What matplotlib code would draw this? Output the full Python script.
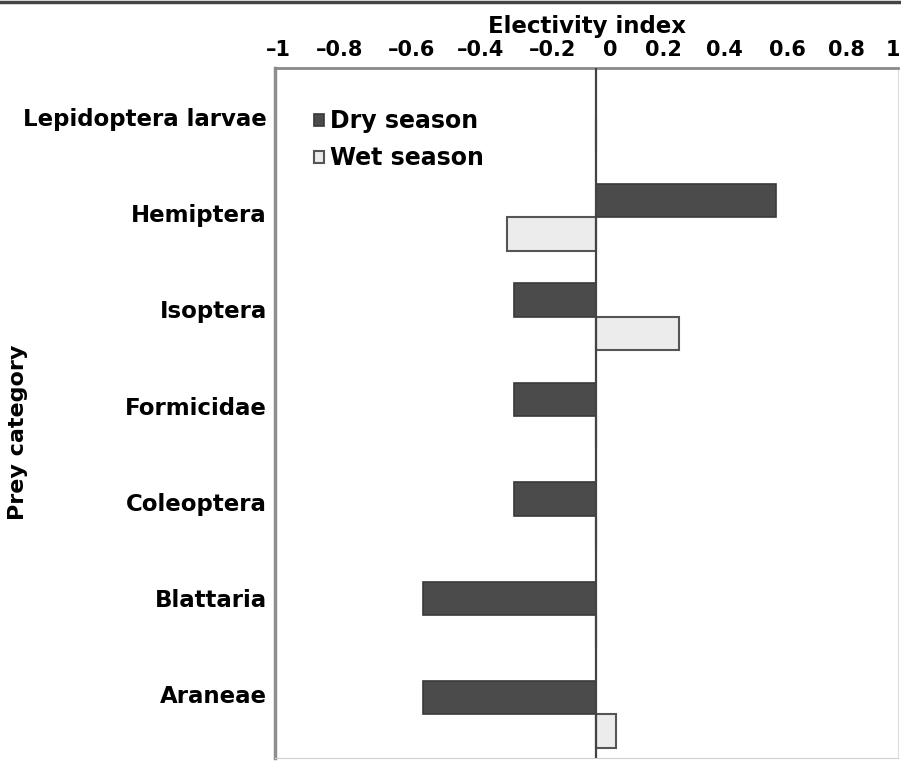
import numpy as np
import matplotlib
matplotlib.use("Agg")
import matplotlib.pyplot as plt
from matplotlib.lines import Line2D

# prey categories, top to bottom
categories = ["Lepidoptera larvae", "Hemiptera", "Isoptera", "Formicidae",
              "Coleoptera", "Blattaria", "Araneae"]
dry = [0.0, 0.56, -0.255, -0.255, -0.255, -0.54, -0.54]
wet = [0.0, -0.277, 0.26, 0.0, 0.0, 0.0, 0.062]

tick_labels = ["\u20131", "\u20130.8", "\u20130.6", "\u20130.4", "\u20130.2",
               "0", "0.2", "0.4", "0.6", "0.8", "1"]
# where the (re-typeset) labels sit on the scanned axis
tick_pos = [-0.99, -0.80, -0.575, -0.36, -0.134, 0.044, 0.209, 0.40, 0.595, 0.78, 0.925]
label_pos = [-0.01 + 0.968 * i for i in range(len(categories))]

plt.rcParams['font.family'] = ['DejaVu Sans']
plt.rcParams['font.weight'] = 'bold'

W, H = 901, 761
fig = plt.figure(figsize=(W / 100, H / 100), dpi=100)
ax = fig.add_axes([275 / W, 1 - 758 / H, 623 / W, 690 / H])

y = np.arange(len(categories))
h = 0.335
ax.barh(y - h / 2, dry, height=h, color='#4b4b4b', edgecolor='#3a3a3a',
        linewidth=1.2, label='Dry season')
ax.barh(y + h / 2, wet, height=h, color='#ececec', edgecolor='#555555',
        linewidth=1.5, label='Wet season')

ax.axvline(0, color='#444444', lw=1.6, zorder=3)

ax.set_xlim(-1.0, 0.941)
ax.set_ylim(6.44, -0.503)

ax.xaxis.tick_top()
ax.xaxis.set_label_position('top')
ax.set_xticks(tick_pos, tick_labels)
ax.set_yticks(label_pos, categories)
ax.tick_params(axis='both', length=0)
ax.tick_params(axis='x', pad=6, labelsize=15)
ax.tick_params(axis='y', pad=6, labelsize=16.5)
ax.set_xlabel("Electivity index", fontsize=16.5, fontweight='bold', labelpad=5)
fig.text(18 / W, 1 - 432 / H, "Prey category", rotation=90, fontsize=16,
         fontweight='bold', ha='center', va='center')

ax.spines['left'].set_color('#8f8f8f')
ax.spines['left'].set_linewidth(2.5)
ax.spines['top'].set_color('#8a8a8a')
ax.spines['top'].set_linewidth(2.0)
ax.spines['right'].set_color('#dddddd')
ax.spines['bottom'].set_color('#d0d0d0')

ax.legend(loc='upper left', bbox_to_anchor=(0.063, 0.94), frameon=False,
          fontsize=17, handlelength=0.4, handleheight=0.4, handletextpad=0.25,
          labelspacing=0.55, borderaxespad=0, borderpad=0)

# dark rule at the very top of the scan
fig.add_artist(Line2D([0, 1], [1 - 1.5 / H, 1 - 1.5 / H], color='#444444', lw=2.5))

fig.savefig("out.png", dpi=100)
